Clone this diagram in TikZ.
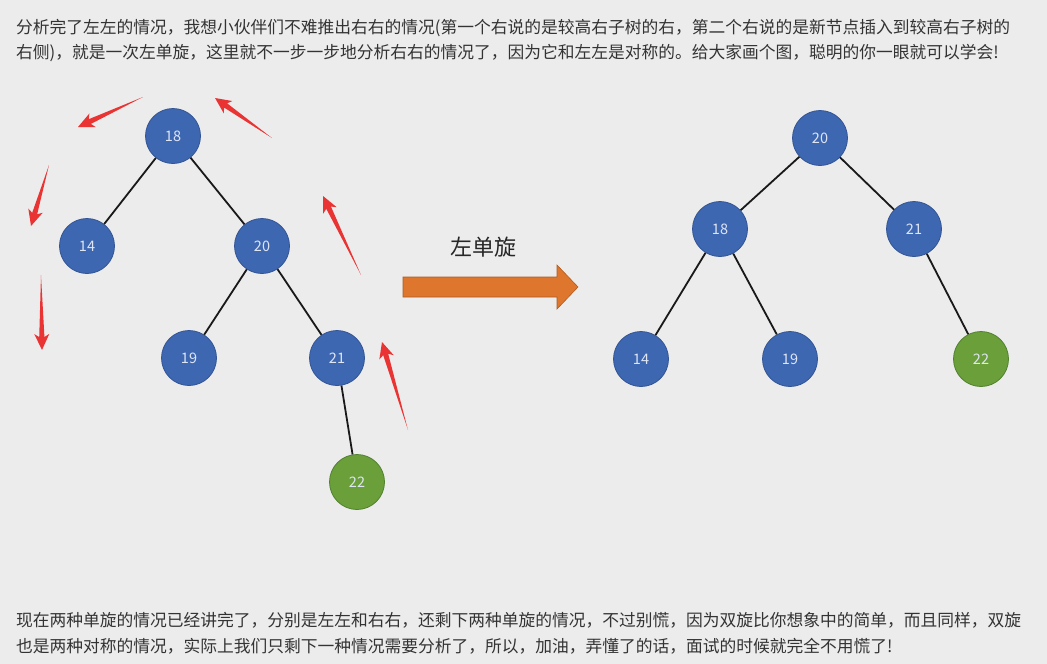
\documentclass[tikz,border=0pt]{standalone}
\usepackage{fontspec}
\setmainfont{Noto Sans CJK SC}
\usetikzlibrary{calc}
\definecolor{bg}{RGB}{236,236,236}
\definecolor{nblue}{RGB}{62,103,178}
\definecolor{nblueb}{RGB}{50,84,148}
\definecolor{ngreen}{RGB}{106,159,58}
\definecolor{ngreenb}{RGB}{82,128,48}
\definecolor{ntext}{RGB}{222,229,243}
\definecolor{txt}{RGB}{51,51,51}
\definecolor{rarrow}{RGB}{234,52,52}
\definecolor{oarrow}{RGB}{222,118,46}
\definecolor{oarrowb}{RGB}{176,92,34}
\tikzset{
  tnode/.style={circle,minimum size=55pt,inner sep=0pt,fill=nblue,draw=nblueb,line width=0.8pt,
    text=ntext,font=\fontsize{14.5}{14.5}\selectfont},
  gnode/.style={tnode,fill=ngreen,draw=ngreenb},
  edge/.style={draw=black!90,line width=1.8pt},
  para/.style={anchor=base west,inner sep=0pt,text=txt,font=\fontsize{16.75}{25}\selectfont},
}
\newcommand{\taperarrow}[2]{%
  \fill[rarrow] (#1)
    -- ($($(#2)!13pt!(#1)$)!2.6pt!90:(#1)$)
    -- ($($(#2)!16pt!(#1)$)!7.5pt!90:(#1)$)
    -- (#2)
    -- ($($(#2)!16pt!(#1)$)!7.5pt!-90:(#1)$)
    -- ($($(#2)!13pt!(#1)$)!2.6pt!-90:(#1)$)
    -- cycle;}
\begin{document}
\begin{tikzpicture}[x=1pt,y=-1pt]
\fill[bg] (0,0) rectangle (1047,664);
\useasboundingbox (0,0) rectangle (1047,664);

% paragraphs
\node[para] (p1) at (16,33) {分析完了左左的情况，我想小伙伴们不难推出右右的情况(第一个右说的是较高右子树的右，第二个右说的是新节点插入到较高右子树的};
\node[para] (p2) at (16,58) {右侧)，就是一次左单旋，这里就不一步一步地分析右右的情况了，因为它和左左是对称的。给大家画个图，聪明的你一眼就可以学会!};
\node[para] (p3) at (16,626) {现在两种单旋的情况已经讲完了，分别是左左和右右，还剩下两种单旋的情况，不过别慌，因为双旋比你想象中的简单，而且同样，双旋};
\node[para] (p4) at (16,652) {也是两种对称的情况，实际上我们只剩下一种情况需要分析了，所以，加油，弄懂了的话，面试的时候就完全不用慌了!};

% left tree
\node[tnode] (a18) at (173,136) {18};
\node[tnode] (a14) at (87,246) {14};
\node[tnode] (a20) at (262,246) {20};
\node[tnode] (a19) at (189,358) {19};
\node[tnode] (a21) at (337,358) {21};
\node[gnode] (a22) at (357,482) {22};
\draw[edge] (a18) -- (a14);
\draw[edge] (a18) -- (a20);
\draw[edge] (a20) -- (a19);
\draw[edge] (a20) -- (a21);
\draw[edge] (a21) -- (a22);

% right tree
\node[tnode] (b20) at (820,138) {20};
\node[tnode] (b18) at (720,229) {18};
\node[tnode] (b21) at (914,229) {21};
\node[tnode] (b14) at (641,359) {14};
\node[tnode] (b19) at (790,359) {19};
\node[gnode] (b22) at (981,359) {22};
\draw[edge] (b20) -- (b18);
\draw[edge] (b20) -- (b21);
\draw[edge] (b18) -- (b14);
\draw[edge] (b18) -- (b19);
\draw[edge] (b21) -- (b22);

% rotation arrow
\node[text=black!85,font=\fontsize{22}{22}\selectfont] (lbl) at (483,247) {左单旋};
\filldraw[fill=oarrow,draw=oarrowb,line width=0.6pt]
  (403,277) -- (557,277) -- (557,265) -- (578,287) -- (557,309) -- (557,297) -- (403,297) -- cycle;

% red tapered arrows
\coordinate (ra1) at (143,97);  \coordinate (rb1) at (78,127);
\coordinate (ra2) at (272,138); \coordinate (rb2) at (215,98);
\coordinate (ra3) at (49,165);  \coordinate (rb3) at (31,226);
\coordinate (ra4) at (41,275);  \coordinate (rb4) at (42,350);
\coordinate (ra5) at (361,275); \coordinate (rb5) at (323,196);
\coordinate (ra6) at (408,430); \coordinate (rb6) at (382,342);
\taperarrow{ra1}{rb1}
\taperarrow{ra2}{rb2}
\taperarrow{ra3}{rb3}
\taperarrow{ra4}{rb4}
\taperarrow{ra5}{rb5}
\taperarrow{ra6}{rb6}
\end{tikzpicture}
\end{document}
